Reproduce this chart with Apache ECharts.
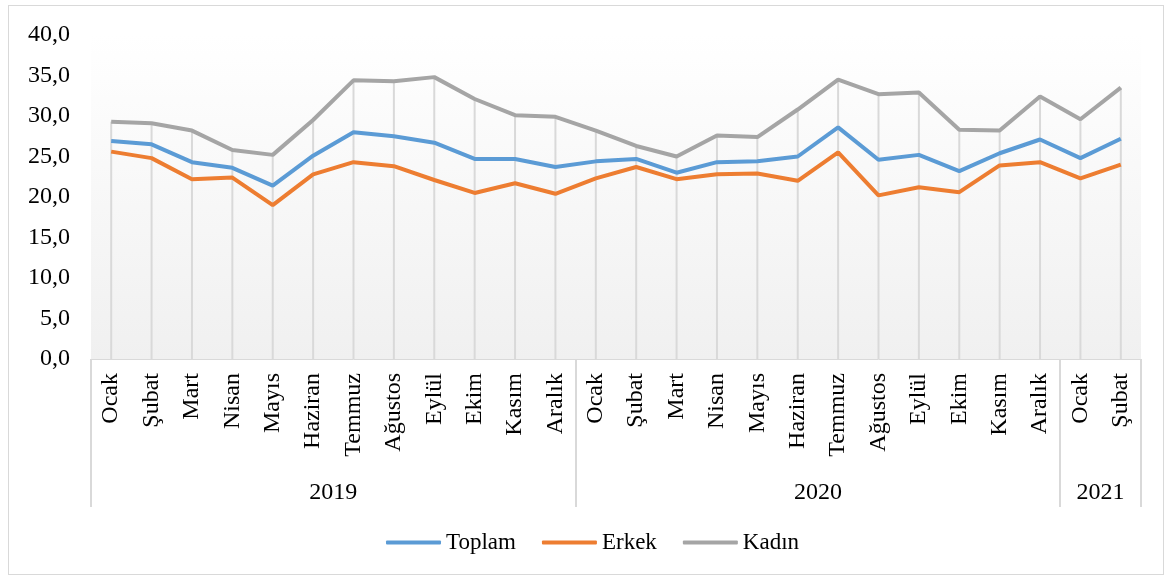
<!DOCTYPE html>
<html lang="tr">
<head>
    <meta charset="UTF-8">
    <title>Toplam / Erkek / Kadın</title>
    <script src="https://cdn.jsdelivr.net/npm/echarts@6/dist/echarts.min.js"></script>
    <style>
        html, body { margin: 0; padding: 0; background: #fff; }
        /* dış çerçeve */
        .frame {
            position: absolute;
            left: 8px; top: 5px;
            width: 1156px; height: 570px;
            border: 1px solid #d9d9d9;
            box-sizing: border-box;
        }
        #chart { width: 1170px; height: 577px; position: absolute; left: 0; top: 0; }
    </style>
</head>
<body>
<div class="frame"></div>
<div id="chart"></div>
<script>
    // aylar
    const months = ['Ocak', 'Şubat', 'Mart', 'Nisan', 'Mayıs', 'Haziran', 'Temmuz', 'Ağustos', 'Eylül', 'Ekim', 'Kasım', 'Aralık',
        'Ocak', 'Şubat', 'Mart', 'Nisan', 'Mayıs', 'Haziran', 'Temmuz', 'Ağustos', 'Eylül', 'Ekim', 'Kasım', 'Aralık',
        'Ocak', 'Şubat'];
    // yıllar ve kaç ay sürdükleri
    const years = ['2019', '2020', '2021'];
    const yearSpans = [12, 12, 2];

    const toplam = [26.9, 26.5, 24.3, 23.6, 21.4, 25.1, 28.0, 27.5, 26.7, 24.7, 24.7, 23.7,
        24.4, 24.7, 23.0, 24.3, 24.4, 25.0, 28.6, 24.6, 25.2, 23.2, 25.4, 27.1, 24.8, 27.2];
    const erkek = [25.6, 24.8, 22.2, 22.4, 19.0, 22.8, 24.3, 23.8, 22.1, 20.5, 21.7, 20.4,
        22.3, 23.7, 22.2, 22.8, 22.9, 22.0, 25.5, 20.2, 21.2, 20.6, 23.9, 24.3, 22.3, 24.0];
    const kadin = [29.3, 29.1, 28.2, 25.8, 25.2, 29.5, 34.4, 34.3, 34.8, 32.1, 30.1, 29.9,
        28.2, 26.3, 25.0, 27.6, 27.4, 30.8, 34.5, 32.7, 32.9, 28.3, 28.2, 32.4, 29.6, 33.5];

    const font = "'Liberation Serif', 'Times New Roman', serif";

    // yıl sınırları ve ortaları
    const bounds = [0];
    const mids = [];
    yearSpans.forEach(function (s) {
        const start = bounds[bounds.length - 1];
        mids.push(start + s / 2);
        bounds.push(start + s);
    });

    const chart = echarts.init(document.getElementById('chart'));
    const option = {
        animation: false,
        textStyle: { fontFamily: font },
        color: ['#5b9bd5', '#ed7d31', '#a5a5a5'],
        grid: {
            left: 91, right: 29, top: 35, bottom: 218,
            show: true,
            borderWidth: 0,
            backgroundColor: new echarts.graphic.LinearGradient(0, 0, 0, 1, [
                { offset: 0, color: '#ffffff' },
                { offset: 1, color: '#f0f0f0' }
            ])
        },
        legend: {
            data: ['Toplam', 'Erkek', 'Kadın'],
            left: 381,
            top: 526,
            icon: 'roundRect',
            itemWidth: 55,
            itemHeight: 4,
            itemGap: 26,
            textStyle: { fontFamily: font, fontSize: 23, color: '#000' }
        },
        xAxis: [{
            type: 'category',
            data: months,
            boundaryGap: true,
            axisLine: { lineStyle: { color: '#d9d9d9', width: 1 } },
            axisTick: { show: false },
            axisLabel: {
                interval: 0,
                rotate: 90,
                margin: 14,
                fontFamily: font,
                fontSize: 24,
                color: '#000'
            }
        }, {
            type: 'value',
            min: 0,
            max: months.length,
            position: 'bottom',
            axisLine: { show: false },
            splitLine: { show: false },
            axisTick: {
                show: true,
                customValues: bounds,
                length: 148,
                lineStyle: { color: '#d9d9d9', width: 2 }
            },
            axisLabel: {
                customValues: mids,
                margin: 122,
                fontFamily: font,
                fontSize: 24,
                color: '#000',
                formatter: function (v) {
                    return years[mids.indexOf(v)];
                }
            }
        }],
        yAxis: {
            type: 'value',
            min: 0,
            max: 40,
            interval: 5,
            axisLine: { show: false },
            axisTick: { show: false },
            splitLine: { show: false },
            axisLabel: {
                margin: 21,
                fontFamily: font,
                fontSize: 24,
                color: '#000',
                formatter: function (v) {
                    return v.toFixed(1).replace('.', ',');
                }
            }
        },
        series: [{
            // düşey çizgiler (en üst noktadan eksene)
            name: 'drop',
            type: 'bar',
            data: kadin,
            barWidth: 2,
            itemStyle: { color: '#d9d9d9' },
            silent: true
        }, {
            name: 'Toplam',
            type: 'line',
            data: toplam,
            showSymbol: false,
            lineStyle: { width: 4, color: '#5b9bd5' },
            itemStyle: { color: '#5b9bd5' }
        }, {
            name: 'Erkek',
            type: 'line',
            data: erkek,
            showSymbol: false,
            lineStyle: { width: 4, color: '#ed7d31' },
            itemStyle: { color: '#ed7d31' }
        }, {
            name: 'Kadın',
            type: 'line',
            data: kadin,
            showSymbol: false,
            lineStyle: { width: 4, color: '#a5a5a5' },
            itemStyle: { color: '#a5a5a5' }
        }]
    };
    chart.setOption(option);
</script>
</body>
</html>
